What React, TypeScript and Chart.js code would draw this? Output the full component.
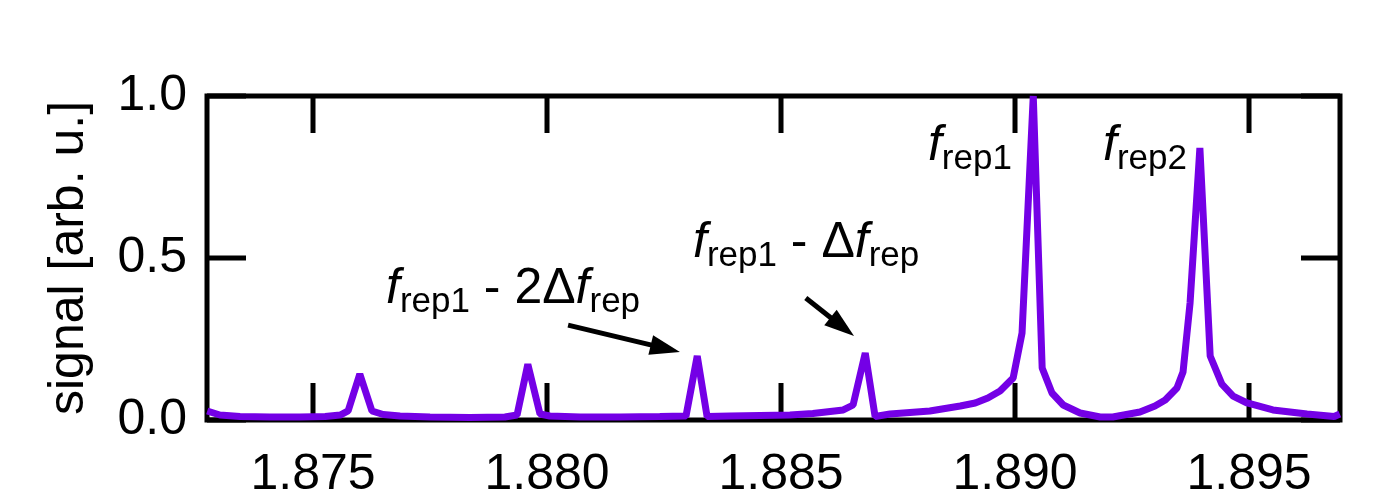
import React, { useEffect, useRef } from 'react';
import { Chart, registerables } from 'chart.js';

Chart.register(...registerables);

// ---- data (frequency in MHz-like units, normalised signal) ----
const freqs = [
  1.87274, 1.87301, 1.87344, 1.87408, 1.87472, 1.87526, 1.87558, 1.87575, 1.876, 1.87626,
  1.8765, 1.87686, 1.8775, 1.87835, 1.8791, 1.87936, 1.87959, 1.87985, 1.88006, 1.88071,
  1.88156, 1.88241, 1.88297, 1.88321, 1.88342, 1.88391, 1.88455, 1.88519, 1.88568, 1.88633,
  1.88654, 1.8868, 1.88701, 1.88733, 1.88818, 1.88883, 1.88915, 1.88942, 1.88968, 1.88996,
  1.89015, 1.89039, 1.89058, 1.89079, 1.89103, 1.89139, 1.89182, 1.89209, 1.89267, 1.89299,
  1.89321, 1.89346, 1.89359, 1.89374, 1.89395, 1.89417, 1.89442, 1.89466, 1.89496, 1.89551,
  1.89624, 1.89682, 1.89694,
];
const signal = [
  0.0278, 0.0154, 0.0108, 0.0093, 0.0093, 0.0108, 0.0154, 0.0278, 0.142, 0.0278,
  0.017, 0.0123, 0.0093, 0.0077, 0.0093, 0.0154, 0.172, 0.0185, 0.0123, 0.0093,
  0.0093, 0.0108, 0.0123, 0.1975, 0.0108, 0.0123, 0.0139, 0.0154, 0.02, 0.0309,
  0.0463, 0.2068, 0.0108, 0.0185, 0.0278, 0.0432, 0.0525, 0.0679, 0.0895, 0.1296,
  0.2685, 1.0, 0.1605, 0.0833, 0.0463, 0.0216, 0.0093, 0.0093, 0.0247, 0.0432,
  0.0617, 0.0988, 0.148, 0.361, 0.8395, 0.1975, 0.111, 0.074, 0.0525, 0.0309,
  0.0185, 0.0108, 0.0185,
];
const xTicks = [1.875, 1.88, 1.885, 1.89, 1.895];
const yTicks = [0.0, 0.5, 1.0];
const xMin = 1.872735;
const xMax = 1.896944;
const yTitle = 'signal [arb. u.]';

// annotation texts (anchored in data units)
const labelFrep1 = [['f', 'i'], ['rep1', 's']];
const labelFrep2 = [['f', 'i'], ['rep2', 's']];
const labelMinus2 = [['f', 'i'], ['rep1', 's'], [' - 2\u0394', 'n'], ['f', 'i'], ['rep', 's']];
const labelMinus1 = [['f', 'i'], ['rep1', 's'], [' - \u0394', 'n'], ['f', 'i'], ['rep', 's']];

const FONT = '"Liberation Sans", Arial, Helvetica, sans-serif';
const LINE_COLOR = '#7400e6';

const textAnnotations = [
  { x: 1.88814, y: 0.8025, parts: labelFrep1 },
  { x: 1.89188, y: 0.8025, parts: labelFrep2 },
  { x: 1.87656, y: 0.361, parts: labelMinus2 },
  { x: 1.88312, y: 0.503, parts: labelMinus1 },
];
const arrowAnnotations = [
  { x0: 1.88045, y0: 0.293, x1: 1.88284, y1: 0.21 },
  { x0: 1.88553, y0: 0.3765, x1: 1.88656, y1: 0.259 },
];

function drawRich(ctx: CanvasRenderingContext2D, x: number, y: number, parts: string[][]) {
  let cx = x;
  for (const [t, s] of parts) {
    if (s === 'i') ctx.font = `italic 50px ${FONT}`;
    else if (s === 's') ctx.font = `35px ${FONT}`;
    else ctx.font = `50px ${FONT}`;
    const yy = s === 's' ? y + 9 : y;
    ctx.fillText(t, cx, yy);
    cx += ctx.measureText(t).width;
  }
}

const framePlugin = {
  id: 'frameTicks',
  beforeDatasetsDraw(chart: any) {
    const { ctx, chartArea: a, scales } = chart;
    const xs = scales.x;
    const ys = scales.y;
    ctx.save();
    ctx.strokeStyle = '#000';
    ctx.lineWidth = 5;
    ctx.lineCap = 'butt';
    ctx.beginPath();
    for (const v of xTicks) {
      const px = xs.getPixelForValue(v);
      ctx.moveTo(px, a.bottom);
      ctx.lineTo(px, a.bottom - 37);
      ctx.moveTo(px, a.top);
      ctx.lineTo(px, a.top + 37);
    }
    for (const v of yTicks) {
      const py = ys.getPixelForValue(v);
      ctx.moveTo(a.left, py);
      ctx.lineTo(a.left + 39, py);
      ctx.moveTo(a.right, py);
      ctx.lineTo(a.right - 39, py);
    }
    ctx.stroke();
    ctx.lineJoin = 'miter';
    ctx.strokeRect(a.left, a.top, a.right - a.left, a.bottom - a.top);
    ctx.restore();
  },
  afterDatasetsDraw(chart: any) {
    const { ctx, scales } = chart;
    const xs = scales.x;
    const ys = scales.y;
    ctx.save();
    ctx.fillStyle = '#000';
    ctx.strokeStyle = '#000';
    ctx.textAlign = 'left';
    ctx.textBaseline = 'alphabetic';
    for (const t of textAnnotations) {
      drawRich(ctx, xs.getPixelForValue(t.x), ys.getPixelForValue(t.y), t.parts);
    }
    for (const ar of arrowAnnotations) {
      const x0 = xs.getPixelForValue(ar.x0);
      const y0 = ys.getPixelForValue(ar.y0);
      const x1 = xs.getPixelForValue(ar.x1);
      const y1 = ys.getPixelForValue(ar.y1);
      const dx = x1 - x0;
      const dy = y1 - y0;
      const len = Math.hypot(dx, dy);
      const ux = dx / len;
      const uy = dy / len;
      const headLen = 30;
      const headHalf = 10;
      const bx = x1 - ux * headLen;
      const by = y1 - uy * headLen;
      ctx.lineWidth = 5;
      ctx.beginPath();
      ctx.moveTo(x0, y0);
      ctx.lineTo(bx + ux * 2, by + uy * 2);
      ctx.stroke();
      ctx.beginPath();
      ctx.moveTo(x1, y1);
      ctx.lineTo(bx - uy * headHalf, by + ux * headHalf);
      ctx.lineTo(bx + uy * headHalf, by - ux * headHalf);
      ctx.closePath();
      ctx.fill();
    }
    ctx.restore();
  },
};

export default function App() {
  const canvasRef = useRef<HTMLCanvasElement | null>(null);

  useEffect(() => {
    const canvas = canvasRef.current;
    if (!canvas) return;
    Chart.defaults.font.family = FONT;
    Chart.defaults.color = '#000';
    const chart = new Chart(canvas, {
      type: 'line',
      data: {
        datasets: [
          {
            data: freqs.map((f, i) => ({ x: f, y: signal[i] })),
            borderColor: LINE_COLOR,
            borderWidth: 7,
            borderJoinStyle: 'bevel',
            pointRadius: 0,
            tension: 0,
            fill: false,
            clip: false as any,
          },
        ],
      },
      options: {
        animation: false,
        responsive: false,
        maintainAspectRatio: false,
        events: [],
        layout: { padding: { left: 0, right: 59, top: 96, bottom: 0 } },
        plugins: {
          legend: { display: false },
          tooltip: { enabled: false },
        },
        scales: {
          x: {
            type: 'linear',
            min: xMin,
            max: xMax,
            grid: { display: false, drawTicks: false },
            border: { display: false },
            afterBuildTicks: (s: any) => {
              s.ticks = xTicks.map((v) => ({ value: v }));
            },
            afterFit: (s: any) => {
              s.height = 78;
            },
            ticks: {
              padding: 25,
              maxRotation: 0,
              autoSkip: false,
              font: { size: 50, family: FONT },
              color: '#000',
              callback: (v: any) => Number(v).toFixed(3),
            },
          },
          y: {
            type: 'linear',
            min: 0,
            max: 1,
            grid: { display: false, drawTicks: false },
            border: { display: false },
            afterBuildTicks: (s: any) => {
              s.ticks = yTicks.map((v) => ({ value: v }));
            },
            afterFit: (s: any) => {
              s.width = 207;
            },
            ticks: {
              padding: 20,
              autoSkip: false,
              font: { size: 50, family: FONT },
              color: '#000',
              callback: (v: any) => Number(v).toFixed(1),
            },
            title: {
              display: true,
              text: yTitle,
              color: '#000',
              font: { size: 50, family: FONT },
              padding: { top: 39, bottom: 0 },
            },
          },
        },
      },
      plugins: [framePlugin],
    });
    return () => chart.destroy();
  }, []);

  return (
    <div style={{ position: 'fixed', left: 0, top: 0, width: 1399, height: 498, background: '#fff' }}>
      <canvas ref={canvasRef} width={1399} height={498} style={{ display: 'block', width: 1399, height: 498 }} />
    </div>
  );
}
